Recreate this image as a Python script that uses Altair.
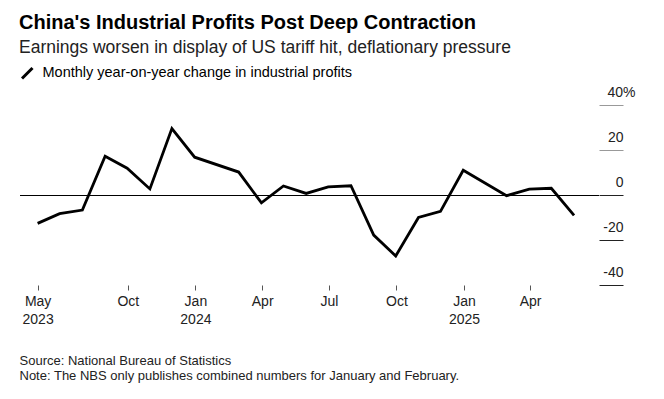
import altair as alt
import pandas as pd

dates = [
    "2023-05-31", "2023-06-30", "2023-07-31", "2023-08-31", "2023-09-30",
    "2023-10-31", "2023-11-30", "2023-12-31", "2024-02-29", "2024-03-31",
    "2024-04-30", "2024-05-31", "2024-06-30", "2024-07-31", "2024-08-31",
    "2024-09-30", "2024-10-31", "2024-11-30", "2024-12-31", "2025-02-28",
    "2025-03-31", "2025-04-30", "2025-05-31",
]
profits_yoy = [
    -12.6, -8.3, -6.7, 17.2, 11.9,
    2.7, 29.5, 16.8, 10.2, -3.5,
    4.0, 0.7, 3.6, 4.1, -17.8,
    -27.1, -10.0, -7.3, 11.0, -0.3,
    2.6, 3.0, -9.1,
]
series_name = "Monthly year-on-year change in industrial profits"
y_ticks = [-40, -20, 0, 20, 40]
x_tick_dates = [(2023, 5, 31), (2023, 10, 1), (2024, 1, 1), (2024, 4, 1),
                (2024, 7, 1), (2024, 10, 1), (2025, 1, 1), (2025, 4, 1)]

df = pd.DataFrame({"date": dates, "value": profits_yoy, "series": series_name})

FONT = "Liberation Sans"

x_enc = alt.X(
    "date:T",
    scale=alt.Scale(type="utc", domain=[alt.DateTime(year=2023, month=5, date=7, utc=True),
                                        alt.DateTime(year=2025, month=7, date=4, utc=True)]),
    axis=alt.Axis(
        values=[alt.DateTime(year=y, month=m, date=d, utc=True) for y, m, d in x_tick_dates],
        labelExpr="(utcFormat(datum.value, '%m') == '01' || utcFormat(datum.value, '%Y-%m') == '2023-05') ? [utcFormat(datum.value, '%b'), utcFormat(datum.value, '%Y')] : utcFormat(datum.value, '%b')",
        domain=False, grid=False, tickSize=5, tickColor="#555", tickWidth=1,
        labelFontSize=14, labelLineHeight=18, labelPadding=4, labelColor="#222",
        labelFont=FONT, labelOverlap=False, labelFlush=False,
        title=["Source: National Bureau of Statistics",
               "Note: The NBS only publishes combined numbers for January and February."],
        titleX=-1, titleY=79, titleAlign="left", titleAnchor="start", titleBaseline="alphabetic",
        titleFontSize=13, titleFontWeight="normal", titleLineHeight=15, titleColor="#222",
        titleFont=FONT,
    ),
)

y_enc = alt.Y(
    "value:Q",
    scale=alt.Scale(domain=[-40, 40], nice=False, zero=False),
    axis=alt.Axis(
        orient="right", values=y_ticks, domain=False, grid=False, title=None,
        tickSize=24, tickWidth=1,
        tickColor={"condition": {"test": "datum.value >= 20", "value": "#999999"}, "value": "#222222"},
        labelExpr="datum.value == 40 ? '40%' : toString(datum.value)",
        labelAlign="right", labelBaseline="alphabetic", labelOffset=-9,
        labelPadding={"condition": {"test": "datum.value == 40", "value": 12}, "value": 0},
        labelFontSize=14, labelColor="#222", labelFont=FONT,
    ),
)

line = alt.Chart(df).mark_line(strokeWidth=2.8, strokeJoin="miter").encode(
    x=x_enc,
    y=y_enc,
    color=alt.Color(
        "series:N",
        scale=alt.Scale(domain=[series_name], range=["#000000"]),
        legend=alt.Legend(
            orient="none", legendX=0, legendY=-39, title=None,
            symbolType="M-1,1L1,-1", symbolSize=110, symbolStrokeWidth=3,
            labelFontSize=14.5, labelColor="#000", labelFont=FONT, labelOffset=8,
            padding=0, labelLimit=600,
        ),
    ),
)

zero = alt.Chart(pd.DataFrame({"z": [0]})).mark_rule(color="#000", strokeWidth=1, yOffset=0.5).encode(
    y=alt.Y("z:Q", scale=alt.Scale(domain=[-40, 40], nice=False, zero=False))
)

chart = alt.layer(zero, line).properties(
    width=579, height=180,
    padding={"left": 12, "top": 97, "right": 57, "bottom": 100},
    autosize=alt.AutoSizeParams(type="none"),
    title=alt.TitleParams(
        text="China's Industrial Profits Post Deep Contraction",
        subtitle="Earnings worsen in display of US tariff hit, deflationary pressure",
        anchor="start", frame="group", dx=-1, offset=10,
        font=FONT, fontSize=20, fontWeight="bold", color="#000",
        subtitleFont=FONT, subtitleFontSize=17.5, subtitleColor="#222", subtitlePadding=6,
    ),
).configure_view(stroke=None)

chart.save("out.html", embed_options={"renderer": "svg", "actions": False})
